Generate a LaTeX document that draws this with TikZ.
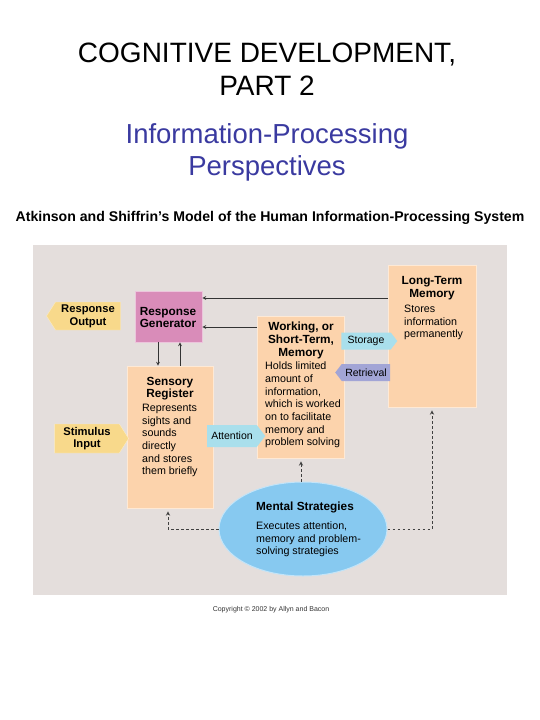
\documentclass[tikz,border=0pt]{standalone}
\usepackage{fontspec}
\setmainfont{Liberation Sans}
\usepackage{tikz}
\usetikzlibrary{positioning, arrows, shapes.symbols, shapes.geometric}

\definecolor{panelgray}{HTML}{E4DEDC}
\definecolor{peachbox}{HTML}{FCD3AC}
\definecolor{pinkbox}{HTML}{D98CB9}
\definecolor{yellowtag}{HTML}{F8D98B}
\definecolor{bluetag}{HTML}{A9DFEC}
\definecolor{violettag}{HTML}{A2A5D6}
\definecolor{skyoval}{HTML}{87C9F0}
\definecolor{titleblue}{HTML}{3A3AA0}

\begin{document}
\begin{tikzpicture}[x=1pt, y=-1pt, >=stealth,
    mbox/.style={rectangle, draw=white!50!peachbox, fill=peachbox, line width=0.8pt, inner sep=0},
    tag/.style={signal, signal pointer angle=105, inner sep=0, font=\fontsize{10.5}{12}\selectfont},
    bigtag/.style={signal, signal pointer angle=115, fill=yellowtag, draw=white!50!yellowtag, inner sep=0, align=center, font=\bfseries\fontsize{11.2}{12.7}\selectfont},
    head/.style={font=\bfseries\fontsize{11.8}{12.7}\selectfont, align=center, inner sep=0},
    body/.style={font=\fontsize{10.7}{12.7}\selectfont, align=left, inner sep=0},
    link/.style={->, line width=0.7pt, draw=black!80},
    dotlink/.style={->, line width=0.9pt, draw=black!75, dash pattern=on 2.5pt off 2.5pt}]
    \useasboundingbox (0,0) rectangle (540,720);

    % Titles
    \node[align=center, font=\fontsize{28}{33}\selectfont] (title) at (267,69) {COGNITIVE DEVELOPMENT,\\PART 2};
    \node[align=center, text=titleblue, font=\fontsize{27.5}{32}\selectfont] (subtitle) at (267,152) {Information-Processing\\Perspectives};
    \node[font=\bfseries\fontsize{14.1}{16}\selectfont] (figtitle) at (270,218) {Atkinson and Shiffrin's Model of the Human Information-Processing System};

    % Panel
    \fill[panelgray] (33,245) rectangle (507,595);
    \node[font=\fontsize{7}{8}\selectfont, text=black!80] (copy) at (271,610) {Copyright \textcopyright\ 2002 by Allyn and Bacon};

    % Boxes
    \node[rectangle, fill=pinkbox, draw=white!50!pinkbox, line width=0.8pt, minimum width=67, minimum height=51] (rg) at (168.5,316.5) {};
    \node[mbox, minimum width=86, minimum height=142] (sr) at (170,437) {};
    \node[mbox, minimum width=87, minimum height=142] (wm) at (301,387) {};
    \node[mbox, minimum width=88, minimum height=142] (ltm) at (432,336) {};
    \node[ellipse, fill=skyoval, draw=white!50!skyoval, line width=1pt, minimum width=168, minimum height=94] (ms) at (303,529) {};

    % Box texts
    \node[head] (rgtitle) at (168,317.5) {Response\\Generator};
    \node[head] (srtitle) at (170,388.5) {Sensory\\Register};
    \node[body, anchor=west] (srtext) at (142,440.5) {Represents\\sights and\\sounds\\directly\\and stores\\them briefly};
    \node[head] (wmtitle) at (301,340.5) {Working, or\\Short-Term,\\Memory};
    \node[body, anchor=west] (wmtext) at (265,405) {Holds limited\\amount of\\information,\\which is worked\\on to facilitate\\memory and\\problem solving};
    \node[head] (ltmtitle) at (432,288) {Long-Term\\Memory};
    \node[body, anchor=west] (ltmtext) at (404,322.5) {Stores\\information\\permanently};
    \node[head] (mstitle) at (305,507) {Mental Strategies};
    \node[body, anchor=west] (mstext) at (256,539.5) {Executes attention,\\memory and problem-\\solving strategies};

    % Tags
    \node[bigtag, signal to=west, minimum width=74, minimum height=28] (out) at (88,316) {Response\\Output};
    \node[bigtag, signal to=east, minimum width=74, minimum height=29] (stim) at (87,438.5) {Stimulus\\Input};
    \node[tag, signal to=east, fill=bluetag, minimum width=56, minimum height=17] (storage) at (366,341) {Storage};
    \node[tag, signal to=west, fill=violettag, minimum width=55, minimum height=17] (retrieval) at (366,372.5) {Retrieval};
    \node[tag, signal to=east, fill=bluetag, minimum width=58, minimum height=22] (attention) at (232,436) {Attention};

    % Solid arrows
    \coordinate (toprow) at (300,298);
    \coordinate (midrow) at (230,327);
    \coordinate (downcol) at (158,350);
    \coordinate (upcol) at (180,350);
    \draw[link] (ltm.west |- toprow) -- (rg.east |- toprow);
    \draw[link] (wm.west |- midrow) -- (rg.east |- midrow);
    \draw[link] (rg.south -| downcol) -- (sr.north -| downcol);
    \draw[link] (sr.north -| upcol) -- (rg.south -| upcol);

    % Dotted arrows
    \draw[dotlink, shorten >=3pt] (ms.west) -| ([xshift=-2pt]sr.south);
    \draw[dotlink, shorten >=3pt] (ms.east) -| (ltm.south);
    \draw[dotlink, shorten >=3pt] (wm.south |- ms.north) -- (wm.south);

\end{tikzpicture}
\end{document}
